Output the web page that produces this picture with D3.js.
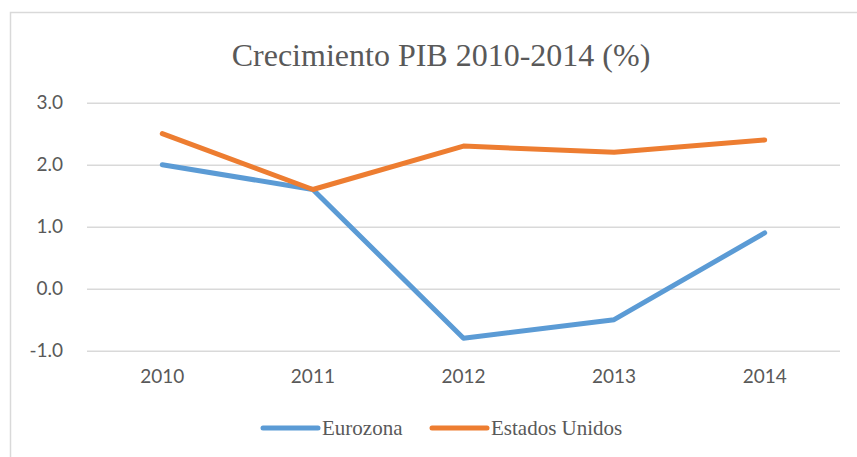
<!DOCTYPE html>
<html lang="es">
<head>
    <meta charset="UTF-8">
    <title>Crecimiento PIB</title>
    <script src="https://cdn.jsdelivr.net/npm/d3@7"></script>
    <style>
        body { margin: 0; background: #fff; }
        svg { display: block; }
    </style>
</head>
<body>
<div id="chart"></div>
<script>
    const years = ["2010", "2011", "2012", "2013", "2014"]
    const eurozona = [2.0, 1.6, -0.8, -0.5, 0.9]
    const estadosUnidos = [2.5, 1.6, 2.3, 2.2, 2.4]
    const yTicks = [-1, 0, 1, 2, 3]

    const series = [
        {name: "Eurozona", values: eurozona, color: "#5B9BD5"},
        {name: "Estados Unidos", values: estadosUnidos, color: "#ED7D31"}
    ]

    const width = 857
    const height = 457
    const plot = {left: 87, right: 840, top: 102.7, bottom: 350.7}
    const textColor = "#595959"

    const svg = d3.select("#chart").append("svg")
        .attr("width", width)
        .attr("height", height)

    // chart frame (only top and left visible in the picture)
    svg.append("path")
        .attr("d", `M10.5,${height} V12.5 H${width}`)
        .attr("fill", "none")
        .attr("stroke", "#D9D9D9")
        .attr("stroke-width", 1.5)

    const x = d3.scaleBand()
        .domain(years)
        .range([plot.left, plot.right])

    const y = d3.scaleLinear()
        .domain([-1, 3])
        .range([plot.bottom, plot.top])

    svg.append("text")
        .attr("x", 441)
        .attr("y", 66)
        .attr("text-anchor", "middle")
        .style("font-family", "'Liberation Serif', 'Times New Roman', serif")
        .style("font-size", "32px")
        .style("fill", textColor)
        .text("Crecimiento PIB 2010-2014 (%)")

    // gridlines + y labels (plain hyphen for negatives, like Excel)
    const yAxis = svg.append("g")
        .attr("transform", `translate(${plot.left},0)`)
        .call(d3.axisLeft(y)
            .tickValues(yTicks)
            .tickSize(-(plot.right - plot.left))
            .tickPadding(24)
            .tickFormat((d) => d.toFixed(1)))

    yAxis.select(".domain").remove()
    yAxis.selectAll(".tick line")
        .attr("stroke", "#D9D9D9")
        .attr("stroke-width", 1.5)
    yAxis.selectAll(".tick text")
        .style("font-family", "Lato, 'Open Sans', sans-serif")
        .style("font-size", "19px")
        .style("fill", textColor)

    const xAxis = svg.append("g")
        .attr("transform", `translate(0,${plot.bottom})`)
        .call(d3.axisBottom(x).tickSize(0).tickPadding(19))

    xAxis.select(".domain").remove()
    xAxis.selectAll(".tick text")
        .style("font-family", "Lato, 'Open Sans', sans-serif")
        .style("font-size", "19px")
        .style("fill", textColor)

    const line = d3.line()
        .x((d, i) => x(years[i]) + x.bandwidth() / 2)
        .y((d) => y(d))

    svg.selectAll(".series")
        .data(series)
        .enter().append("path")
        .attr("class", "series")
        .attr("d", (d) => line(d.values))
        .attr("fill", "none")
        .attr("stroke", (d) => d.color)
        .attr("stroke-width", 5)
        .attr("stroke-linejoin", "round")
        .attr("stroke-linecap", "round")

    // legend
    const legendX = [263, 432]
    const legend = svg.selectAll(".legend")
        .data(series)
        .enter().append("g")
        .attr("class", "legend")
        .attr("transform", (d, i) => `translate(${legendX[i]},428)`)

    legend.append("line")
        .attr("x1", 0)
        .attr("x2", 55)
        .attr("stroke", (d) => d.color)
        .attr("stroke-width", 5)
        .attr("stroke-linecap", "round")

    legend.append("text")
        .attr("x", 59)
        .attr("y", 7)
        .style("font-family", "'Liberation Serif', 'Times New Roman', serif")
        .style("font-size", "21px")
        .style("fill", textColor)
        .text((d) => d.name)
</script>
</body>
</html>
